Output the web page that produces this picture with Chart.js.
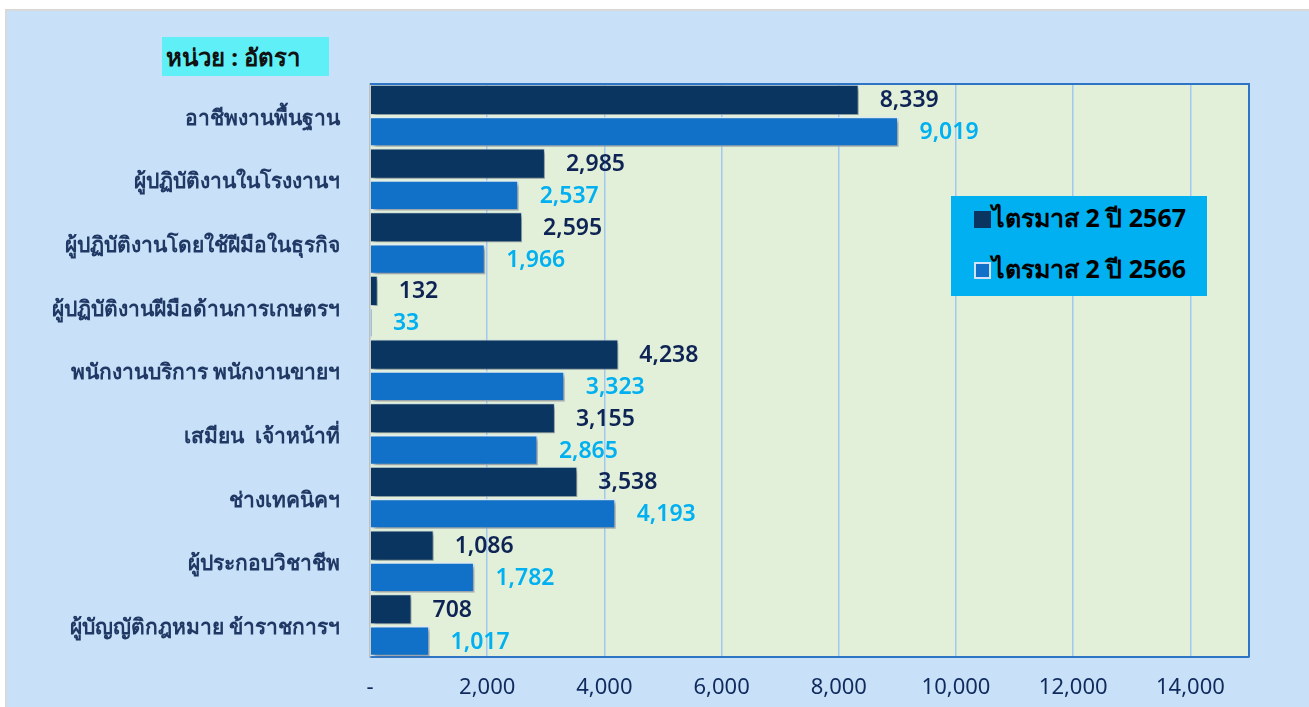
<!DOCTYPE html>
<html>
<head>
<meta charset="utf-8">
<script src="https://cdn.jsdelivr.net/npm/chart.js@4.4.1/dist/chart.umd.min.js"></script>
<style>
  body { margin: 0; background: #ffffff; }
  #wrap { position: relative; width: 1309px; height: 707px; overflow: hidden; }
  #bg { position: absolute; left: 5px; top: 9px; right: 0; bottom: 0; background: #c9e1f8;
        border-left: 2px solid #d9d9d9; border-top: 2px solid #d9d9d9; }
  #chart { position: absolute; left: 0; top: 0; }
  #unit { position: absolute; left: 162px; top: 37px; width: 167px; height: 39px; background: #5ff0f7;
          font: bold 24px "Noto Sans", sans-serif; color: #111; line-height: 39px; padding-left: 4px; box-sizing: border-box; }
  #legend { position: absolute; left: 951px; top: 196px; width: 256px; height: 100px; background: #00b0f0;
            font: bold 25px "Noto Sans", sans-serif; color: #000; }
  #legend div { position: absolute; left: 23px; height: 34px; line-height: 34px; white-space: nowrap; }
  #legend span { display: inline-block; width: 17px; height: 17px; vertical-align: -1px; margin-right: 1px; box-sizing: border-box; }
</style>
</head>
<body>
<div id="wrap">
  <div id="bg"></div>
  <canvas id="chart" width="1309" height="707"></canvas>
  <div id="unit">หน่วย : อัตรา</div>
  <div id="legend">
    <div style="top:4px"><span style="background:#0a3561"></span>ไตรมาส 2 ปี 2567</div>
    <div style="top:55px"><span style="background:#1170c7;border:2px solid #cfe2f7"></span>ไตรมาส 2 ปี 2566</div>
  </div>
</div>
<script>
// data
var categories = [
  "อาชีพงานพื้นฐาน",
  "ผู้ปฏิบัติงานในโรงงานฯ",
  "ผู้ปฏิบัติงานโดยใช้ฝีมือในธุรกิจ",
  "ผู้ปฏิบัติงานฝีมือด้านการเกษตรฯ",
  "พนักงานบริการ พนักงานขายฯ",
  "เสมียน  เจ้าหน้าที่",
  "ช่างเทคนิคฯ",
  "ผู้ประกอบวิชาชีพ",
  "ผู้บัญญัติกฎหมาย ข้าราชการฯ"
];
var q2_2567 = [8339, 2985, 2595, 132, 4238, 3155, 3538, 1086, 708];
var q2_2566 = [9019, 2537, 1966, 33, 3323, 2865, 4193, 1782, 1017];
var seriesNames = ["ไตรมาส 2 ปี 2567", "ไตรมาส 2 ปี 2566"];
var xTicks = [0, 2000, 4000, 6000, 8000, 10000, 12000, 14000];
var labelColors = ["#0d2454", "#00b0f0"];

// plot background + top/right border
var plotFrame = {
  id: "plotFrame",
  beforeDraw(chart) {
    let a = chart.chartArea, ctx = chart.ctx;
    ctx.save();
    ctx.fillStyle = "#e2f0d9";
    ctx.fillRect(a.left, a.top, a.right - a.left, a.bottom - a.top);
    ctx.restore();
  },
  afterDraw(chart) {
    let a = chart.chartArea, ctx = chart.ctx;
    ctx.save();
    ctx.strokeStyle = "#2e75c6";
    ctx.lineWidth = 2;
    ctx.beginPath();
    ctx.moveTo(a.left, a.top);
    ctx.lineTo(a.right, a.top);
    ctx.lineTo(a.right, a.bottom);
    ctx.stroke();
    ctx.restore();
  }
};

// soft shadow under the bars
var barShadow = {
  id: "barShadow",
  beforeDatasetDraw(chart) {
    let ctx = chart.ctx;
    ctx.save();
    ctx.shadowColor = "rgba(0,0,0,0.35)";
    ctx.shadowBlur = 4;
    ctx.shadowOffsetX = 3;
    ctx.shadowOffsetY = 3;
  },
  afterDatasetDraw(chart) {
    chart.ctx.restore();
  }
};

// value labels right of each bar
var valueLabels = {
  id: "valueLabels",
  afterDatasetsDraw(chart) {
    let ctx = chart.ctx;
    ctx.save();
    ctx.font = "600 23px 'Noto Sans', sans-serif";
    ctx.textAlign = "left";
    ctx.textBaseline = "middle";
    chart.data.datasets.forEach((ds, i) => {
      ctx.fillStyle = labelColors[i];
      chart.getDatasetMeta(i).data.forEach((bar, j) => {
        ctx.fillText(ds.data[j].toLocaleString("en-US"), bar.x + 21, bar.y + 1);
      });
    });
    ctx.restore();
  }
};

const chart = new Chart(document.getElementById("chart"), {
  type: "bar",
  data: {
    labels: categories,
    datasets: [
      {
        label: seriesNames[0],
        data: q2_2567,
        backgroundColor: "#0a3561",
        borderColor: "rgba(200,220,240,0.8)",
        borderWidth: 1,
      },
      {
        label: seriesNames[1],
        data: q2_2566,
        backgroundColor: "#1170c7",
        borderColor: "rgba(225,238,252,0.95)",
        borderWidth: 1.5,
      },
    ],
  },
  options: {
    indexAxis: "y",
    responsive: false,
    animation: false,
    categoryPercentage: 1,
    barPercentage: 0.95,
    layout: { padding: { top: 84, right: 60, left: 0, bottom: 0 } },
    scales: {
      x: {
        min: 0,
        max: 15000,
        afterBuildTicks: (s) => { s.ticks = xTicks.map((v) => ({ value: v })); },
        ticks: {
          padding: 18,
          color: "#0f2a5c",
          font: { family: "'Noto Sans', sans-serif", size: 22 },
          callback: (v) => (v === 0 ? "-" : v.toLocaleString("en-US")),
        },
        grid: {
          color: (c) => (c.tick && c.tick.value === 0 ? "rgba(0,0,0,0)" : "#a3c8ef"),
          lineWidth: 1.5,
          drawTicks: false,
        },
        border: { color: "#2e75c6", width: 2 },
        afterFit: (s) => { s.height = 50; },
      },
      y: {
        ticks: {
          padding: 30,
          labelOffset: 3,
          color: "#1f3864",
          font: { family: "'Noto Sans', sans-serif", size: 21, weight: "bold" },
        },
        grid: { display: false, drawTicks: false },
        border: { color: "#bfbfbf", width: 1.5 },
        afterFit: (s) => { s.width = 370; },
      },
    },
    plugins: {
      legend: { display: false },
      tooltip: { enabled: false },
    },
  },
  plugins: [plotFrame, barShadow, valueLabels],
});
</script>
</body>
</html>
